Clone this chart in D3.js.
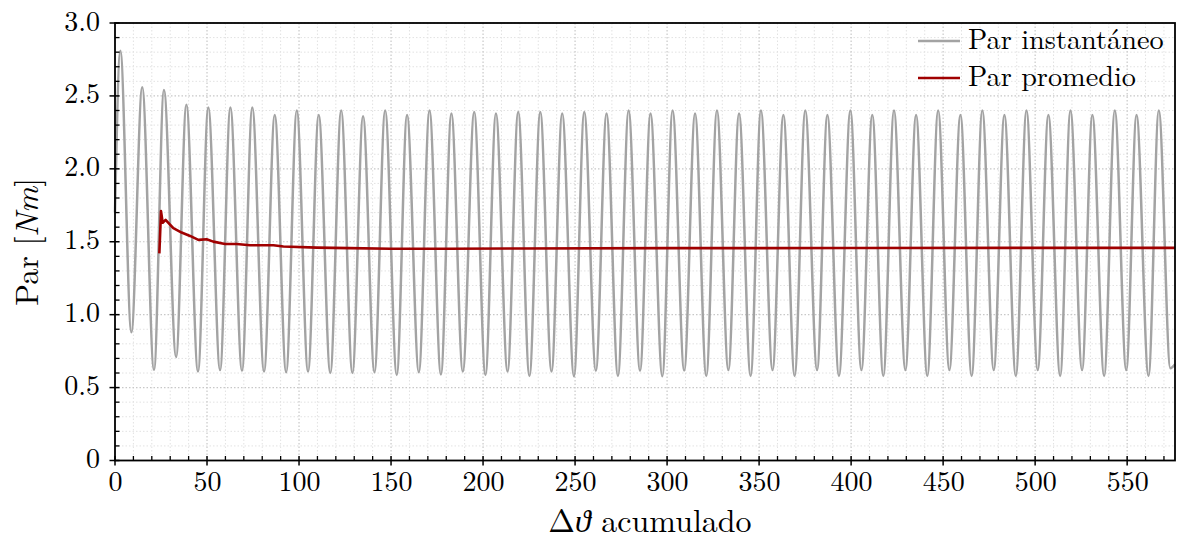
<!DOCTYPE html>
<html>
<head>
<meta charset="utf-8">
<script src="https://cdn.jsdelivr.net/npm/d3@7/dist/d3.min.js"></script>
<style>
  body { margin: 0; background: #fff; }
</style>
</head>
<body>
<script>
// Par instantaneo: maxima and minima
var peakDeg = [2.9, 14.8, 26.6, 38.8, 50.7, 62.7, 74.6, 86.8, 98.8, 110.7, 122.9, 134.8,
  146.8, 158.7, 170.9, 182.8, 195.2, 207.0, 219.1, 231.1, 243.0, 255.0, 267.1, 279.1,
  291.0, 303.0, 315.2, 327.1, 339.1, 351.0, 363.2, 375.1, 387.1, 399.6, 411.5, 423.3,
  435.3, 447.3, 459.4, 471.3, 483.3, 495.3, 507.2, 519.2, 531.1, 543.3, 555.1, 567.2];
var peakPar = [2.81, 2.56, 2.54, 2.44, 2.42, 2.42, 2.42, 2.37, 2.40, 2.37, 2.40, 2.36,
  2.40, 2.37, 2.40, 2.38, 2.39, 2.38, 2.39, 2.39, 2.38, 2.39, 2.38, 2.40,
  2.38, 2.40, 2.38, 2.40, 2.38, 2.40, 2.37, 2.40, 2.37, 2.40, 2.37, 2.40,
  2.37, 2.40, 2.37, 2.40, 2.37, 2.40, 2.37, 2.40, 2.37, 2.40, 2.37, 2.40];
var troughDeg = [8.9, 21.2, 33.2, 45.1, 57.1, 69.0, 81.0, 93.0, 104.9, 117.0, 129.0, 141.0,
  153.1, 165.1, 177.1, 189.0, 201.3, 213.3, 225.2, 237.2, 249.4, 261.3, 273.3, 285.3,
  297.4, 309.3, 321.3, 333.3, 345.4, 357.3, 369.3, 381.5, 393.4, 405.6, 417.5, 429.5,
  441.4, 453.4, 465.5, 477.5, 489.5, 501.4, 513.6, 525.5, 537.5, 549.5, 561.6, 573.5];
var troughPar = [0.88, 0.62, 0.71, 0.61, 0.62, 0.615, 0.61, 0.605, 0.61, 0.60, 0.60, 0.605,
  0.587, 0.605, 0.59, 0.61, 0.587, 0.61, 0.58, 0.61, 0.578, 0.615, 0.58, 0.615,
  0.578, 0.617, 0.58, 0.62, 0.58, 0.62, 0.58, 0.62, 0.58, 0.62, 0.58, 0.62,
  0.58, 0.62, 0.58, 0.62, 0.58, 0.62, 0.58, 0.62, 0.58, 0.62, 0.58, 0.633];
var edgeDeg = [0, 576];
var edgePar = [1.70, 0.66];

// Par promedio
var avgDeg = [24.1, 25.0, 25.9, 27.5, 29.0, 31.7, 36.2, 40.8, 45.3, 49.8, 53.4, 59.8,
  66.1, 73.4, 86.1, 91.5, 109.6, 127.4, 150, 180, 220, 300, 400, 500, 576];
var avgPar = [1.42, 1.71, 1.63, 1.65, 1.63, 1.593, 1.563, 1.54, 1.513, 1.517, 1.501, 1.485,
  1.485, 1.476, 1.476, 1.467, 1.46, 1.456, 1.452, 1.452, 1.454, 1.456, 1.457, 1.458, 1.458];

var xTicks = [0, 50, 100, 150, 200, 250, 300, 350, 400, 450, 500, 550];
var xTickLabels = ["0", "50", "100", "150", "200", "250", "300", "350", "400", "450", "500", "550"];
var yTicks = [0, 0.5, 1.0, 1.5, 2.0, 2.5, 3.0];
var yTickLabels = ["0", "0.5", "1.0", "1.5", "2.0", "2.5", "3.0"];
var legendLabels = ["Par instantáneo", "Par promedio"];

var FONT = "'Latin Modern Roman', 'CMU Serif', 'Liberation Serif', serif";

var svgWidth = 1182;
var svgHeight = 542;
var margin = { top: 23, right: 7, bottom: 81.5, left: 115 };
var width = svgWidth - margin.left - margin.right;
var height = svgHeight - margin.top - margin.bottom;

var svg = d3.select("body").append("svg")
  .attr("width", svgWidth)
  .attr("height", svgHeight);

var chartGroup = svg.append("g")
  .attr("transform", `translate(${margin.left}, ${margin.top})`);

var xScale = d3.scaleLinear().domain([0, 576]).range([0, width]);
var yScale = d3.scaleLinear().domain([0, 3]).range([height, 0]);

// grid: minor then major, both dotted
var xMinor = d3.range(10, 576, 10).filter(d => d % 50 !== 0);
var yMinor = d3.range(1, 30).map(d => d / 10).filter(d => Math.round(d * 10) % 5 !== 0);

chartGroup.append("g").selectAll("line").data(xMinor).enter().append("line")
  .attr("x1", d => xScale(d)).attr("x2", d => xScale(d))
  .attr("y1", 0).attr("y2", height)
  .attr("stroke", "#e2e2e2").attr("stroke-width", 1).attr("stroke-dasharray", "1.5,2");
chartGroup.append("g").selectAll("line").data(yMinor).enter().append("line")
  .attr("y1", d => yScale(d)).attr("y2", d => yScale(d))
  .attr("x1", 0).attr("x2", width)
  .attr("stroke", "#e2e2e2").attr("stroke-width", 1).attr("stroke-dasharray", "1.5,2");
chartGroup.append("g").selectAll("line").data(xTicks.slice(1)).enter().append("line")
  .attr("x1", d => xScale(d)).attr("x2", d => xScale(d))
  .attr("y1", 0).attr("y2", height)
  .attr("stroke", "#c8c8c8").attr("stroke-width", 1.2).attr("stroke-dasharray", "1.5,2");
chartGroup.append("g").selectAll("line").data(yTicks.slice(1)).enter().append("line")
  .attr("y1", d => yScale(d)).attr("y2", d => yScale(d))
  .attr("x1", 0).attr("x2", width)
  .attr("stroke", "#c8c8c8").attr("stroke-width", 1.2).attr("stroke-dasharray", "1.5,2");

// instantaneous torque: join edges, peaks and troughs, sorted by angle
var instData = [];
edgeDeg.forEach((d, i) => instData.push({ x: d, y: edgePar[i] }));
peakDeg.forEach((d, i) => instData.push({ x: d, y: peakPar[i] }));
troughDeg.forEach((d, i) => instData.push({ x: d, y: troughPar[i] }));
instData.sort((a, b) => a.x - b.x);

var avgData = avgDeg.map((d, i) => ({ x: d, y: avgPar[i] }));

var instLine = d3.line()
  .x(d => xScale(d.x))
  .y(d => yScale(d.y))
  .curve(d3.curveMonotoneX);

var avgLine = d3.line()
  .x(d => xScale(d.x))
  .y(d => yScale(d.y));

chartGroup.append("path")
  .datum(instData)
  .attr("d", instLine)
  .attr("fill", "none")
  .attr("stroke", "#a3a3a3")
  .attr("stroke-width", 2.5);

chartGroup.append("path")
  .datum(avgData)
  .attr("d", avgLine)
  .attr("fill", "none")
  .attr("stroke", "#a00000")
  .attr("stroke-width", 2.6)
  .attr("stroke-linejoin", "round");

// axes (labels only, ticks drawn below)
var bottomAxis = d3.axisBottom(xScale).tickValues(xTicks)
  .tickFormat((d, i) => xTickLabels[i]).tickSize(0);
var leftAxis = d3.axisLeft(yScale).tickValues(yTicks)
  .tickFormat((d, i) => yTickLabels[i]).tickSize(0).tickPadding(15);

var xAxisG = chartGroup.append("g").attr("transform", `translate(0, ${height})`).call(bottomAxis);
var yAxisG = chartGroup.append("g").call(leftAxis);
[xAxisG, yAxisG].forEach(g => {
  g.select(".domain").remove();
  g.selectAll("text").style("font-family", FONT).style("font-size", "28px").attr("fill", "#000");
});
xAxisG.selectAll("text").attr("y", 30.5).attr("dy", 0);
yAxisG.selectAll("text").attr("dy", 7);

// tick marks
chartGroup.append("g").selectAll("line").data(xMinor).enter().append("line")
  .attr("x1", d => xScale(d)).attr("x2", d => xScale(d))
  .attr("y1", height - 4.5).attr("y2", height)
  .attr("stroke", "#000").attr("stroke-width", 1.3);
chartGroup.append("g").selectAll("line").data(xTicks).enter().append("line")
  .attr("x1", d => xScale(d)).attr("x2", d => xScale(d))
  .attr("y1", height - 4.5).attr("y2", height + 5)
  .attr("stroke", "#000").attr("stroke-width", 1.5);
chartGroup.append("g").selectAll("line").data(yMinor).enter().append("line")
  .attr("y1", d => yScale(d)).attr("y2", d => yScale(d))
  .attr("x1", 0).attr("x2", 4.5)
  .attr("stroke", "#000").attr("stroke-width", 1.3);
chartGroup.append("g").selectAll("line").data(yTicks).enter().append("line")
  .attr("y1", d => yScale(d)).attr("y2", d => yScale(d))
  .attr("x1", -5.5).attr("x2", 4.5)
  .attr("stroke", "#000").attr("stroke-width", 1.5);

// frame
chartGroup.append("rect")
  .attr("x", 0).attr("y", 0)
  .attr("width", width).attr("height", height)
  .attr("fill", "none").attr("stroke", "#000").attr("stroke-width", 1.8);

// legend
var legendColors = ["#a3a3a3", "#a00000"];
var legend = chartGroup.append("g").attr("transform", `translate(${width - 257}, 0)`);
legendLabels.forEach((lab, i) => {
  var yy = 18 + i * 37;
  legend.append("line")
    .attr("x1", 0).attr("x2", 42)
    .attr("y1", yy).attr("y2", yy)
    .attr("stroke", legendColors[i]).attr("stroke-width", i === 0 ? 2.5 : 2.6);
  legend.append("text")
    .attr("x", 50).attr("y", yy)
    .attr("dy", 7.5)
    .style("font-family", FONT)
    .style("font-size", "28.3px")
    .text(lab);
});

// axis labels
var xLabel = svg.append("text")
  .attr("x", 650)
  .attr("y", 532)
  .attr("text-anchor", "middle")
  .style("font-family", FONT)
  .style("font-size", "32px");
xLabel.append("tspan").text("Δ");
xLabel.append("tspan").style("font-style", "italic").text("ϑ");
xLabel.append("tspan").text(" acumulado");

var yLabel = svg.append("text")
  .attr("transform", `translate(38, ${margin.top + height / 2}) rotate(-90)`)
  .attr("text-anchor", "middle")
  .style("font-family", FONT)
  .style("font-size", "32px");
yLabel.append("tspan").text("Par [");
yLabel.append("tspan").style("font-style", "italic").text("Nm");
yLabel.append("tspan").text("]");
</script>
</body>
</html>
